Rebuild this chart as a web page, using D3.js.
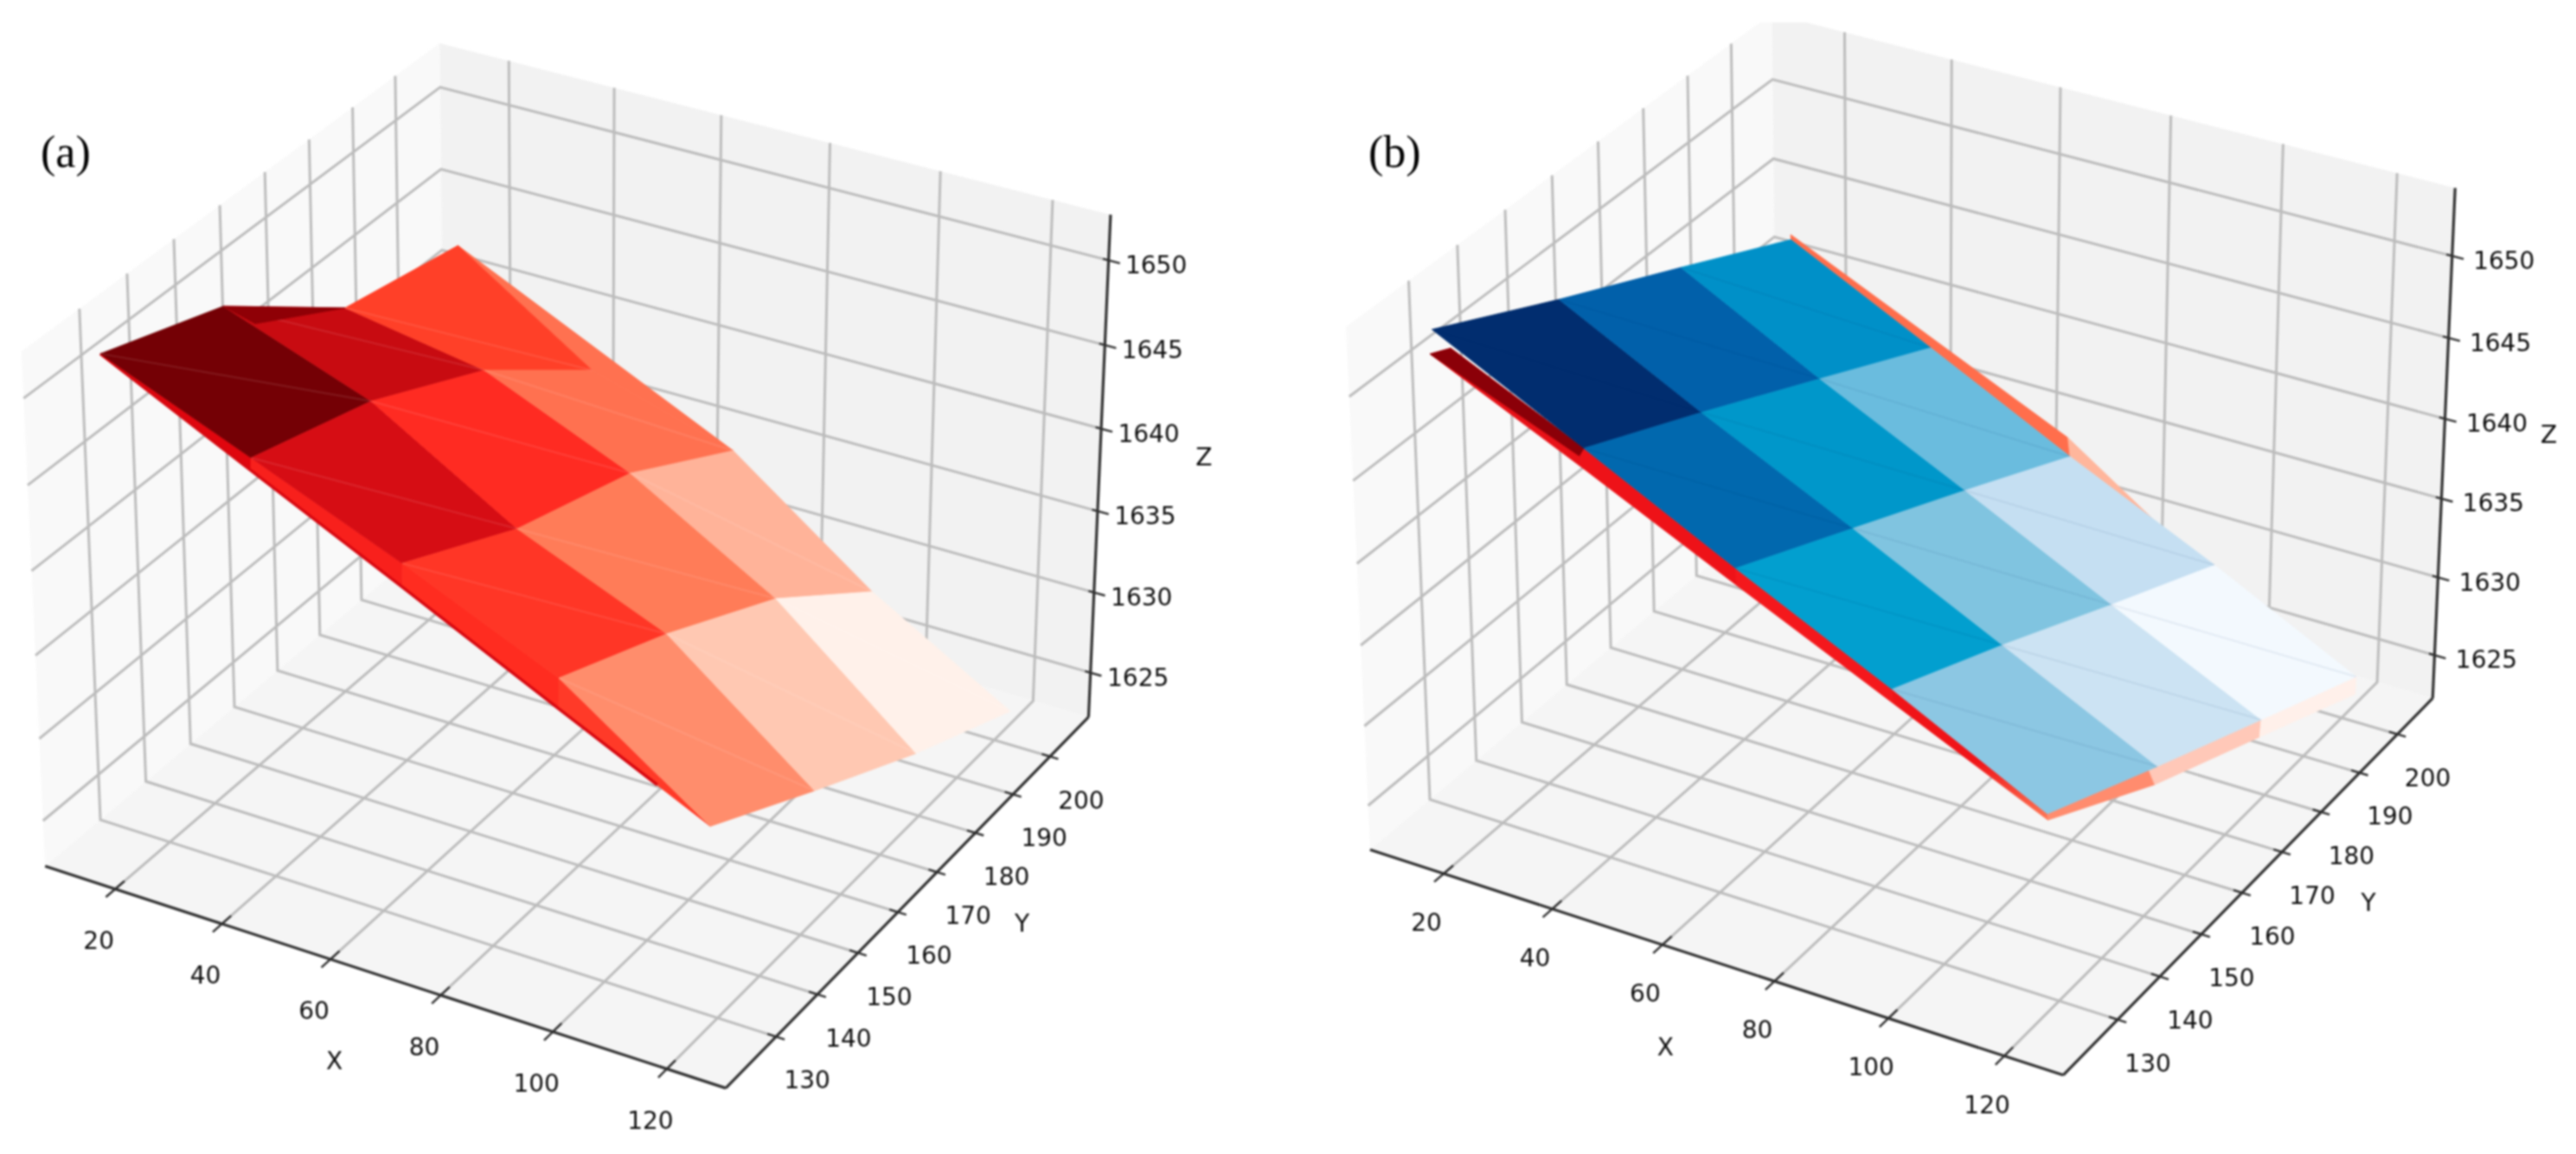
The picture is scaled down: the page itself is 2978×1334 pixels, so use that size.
<!DOCTYPE html>
<html>
  <head>
    <meta charset="utf-8">
    <title>Surface comparison</title>
    <style>
      body { margin: 0; background: #fff; overflow: hidden; }
      svg { display: block; filter: blur(0.9px); }
      .tick-label, .axis-label { font-family: "DejaVu Sans"; font-size: 28px; fill: #0c0c0c; text-anchor: middle; }
      .panel-label { font-family: "Liberation Serif"; font-size: 52px; fill: #000; }
      .grid { fill: none; stroke: #bcbcbc; stroke-width: 3px; }
      .axis-line { stroke: #303030; stroke-width: 3.2px; }
      .tick { stroke: #303030; stroke-width: 2.4px; }
    </style>
  </head>
  <body>
    <svg id="container" width="2978" height="1334">
      <defs>
        <linearGradient id="strip-tip" x1="0" y1="0" x2="0" y2="1">
          <stop offset="0.55" stop-color="#f01418"></stop>
          <stop offset="1" stop-color="#ff7a58"></stop>
        </linearGradient>
        <clipPath id="top-cut"><rect x="1489" y="26" width="1489" height="1308"></rect></clipPath>
      </defs>
    </svg>
    <script src="https://cdn.jsdelivr.net/npm/d3@7/dist/d3.min.js"></script>
    <script>
      // tick labels
      const xTicks = [20, 40, 60, 80, 100, 120];
      const yTicks = [130, 140, 150, 160, 170, 180, 190, 200];
      const zTicks = [1625, 1630, 1635, 1640, 1645, 1650];

      // red surface, rows along X, columns along Y
      const redX = [
        [15.5, 14.0, 20.9, 16.3],
        [40.5, 38.1, 39.5, 46.0],
        [65.6, 67.2, 65.4, 68.3],
        [92.3, 92.7, 94.6, 100.1],
        [123.0, 125.2, 127.1, 127.8]
      ];
      const redY = [
        [124.3, 151.8, 170.5, 202.6],
        [126.5, 155.4, 179.7, 197.4],
        [128.5, 152.2, 181.4, 203.3],
        [129.5, 154.0, 178.2, 195.3],
        [123.6, 145.4, 168.2, 192.1]
      ];
      const redZ = [
        [1652.04, 1649.03, 1645.75, 1642.69],
        [1647.91, 1644.87, 1641.78, 1638.70],
        [1643.78, 1640.73, 1637.56, 1634.53],
        [1639.53, 1636.57, 1633.42, 1630.56],
        [1635.46, 1632.54, 1629.57, 1626.63]
      ];
      // loose points where the red sheet folds under itself
      const redFoldPoints = [
        [18.7, 153.2, 1648.14],
        [42.5, 124.1, 1647.88],
        [69.3, 124.0, 1643.75],
        [96.7, 123.8, 1639.51],
        [113.8, 123.7, 1636.88]
      ];

      // blue surface
      const blueX = [
        [11.9, 14.0, 15.6, 17.3],
        [39.6, 40.9, 42.7, 44.6],
        [67.1, 68.5, 69.9, 71.6],
        [94.7, 95.7, 97.3, 98.6],
        [122.3, 123.6, 124.6, 125.5]
      ];
      const blueY = [
        [128.1, 151.9, 176.6, 199.8],
        [127.1, 150.5, 174.8, 198.6],
        [125.9, 149.8, 173.9, 197.2],
        [125.1, 148.7, 172.6, 196.7],
        [123.6, 147.5, 171.7, 195.1]
      ];
      const blueZ = [
        [1652.16, 1649.02, 1645.86, 1642.86],
        [1647.98, 1645.01, 1641.86, 1638.77],
        [1643.85, 1640.82, 1637.75, 1634.75],
        [1639.68, 1636.73, 1633.67, 1630.62],
        [1635.57, 1632.55, 1629.54, 1626.63]
      ];
      // edge of the red sheet that shows from under the blue one
      const underPoints = [
        [15.8, 123.3, 1652.12],
        [40.5, 125.1, 1647.49],
        [123.2, 122.5, 1635.57],
        [16.4, 200.9, 1642.87],
        [68.4, 201.0, 1634.78],
        [91.1, 196.0, 1631.86],
        [123.5, 145.6, 1632.79],
        [125.9, 143.7, 1632.64],
        [126.9, 168.0, 1629.62],
        [127.5, 191.9, 1626.50],
        [68.5, 124.5, 1643.28],
        [96.5, 123.0, 1639.55],
        [17.5, 125.6, 1652.12],
        [40.5, 125.1, 1648.07]
      ];

      const redCells = [
        ['#740005', '#c80b11', '#ff4028'],
        ['#d60d14', '#ff2b22', '#ff7150'],
        ['#ff3626', '#ff7c58', '#ffb399'],
        ['#ff8d6c', '#ffc8b2', '#fff1ea']
      ];
      const blueCells = [
        ['#012d6f', '#0160aa', '#0090c8'],
        ['#0168ae', '#0097ca', '#6abcde'],
        ['#029fcf', '#80c4e0', '#c5dff2'],
        ['#8cc7e3', '#cce3f3', '#f3f9fe']
      ];

      const svg = d3.select('#container');

      // box half sizes and camera of a default 3D axes (elev 30, azim -60)
      const boxXY = 0.5714, boxZ = 0.4286, dist = 10;
      const U = [0.8660254, 0.5, 0],
        V = [-0.25, 0.4330127, 0.8660254],
        N = [0.4330127, -0.75, 0.5];
      const dot = (a, b) => a[0] * b[0] + a[1] * b[1] + a[2] * b[2];

      function makeProjection(f) {
        const wx = d3.scaleLinear().domain(f.x).range([-boxXY, boxXY]),
          wy = d3.scaleLinear().domain(f.y).range([-boxXY, boxXY]),
          wz = d3.scaleLinear().domain(f.z).range([-boxZ, boxZ]),
          sx = d3.scaleLinear().domain([0, 1]).range([f.tx, f.tx + f.sx]),
          sy = d3.scaleLinear().domain([0, 1]).range([f.ty, f.ty - f.sy]);
        return function (p) {
          const w = [wx(p[0]), wy(p[1]), wz(p[2])], d = dist - dot(w, N);
          return [sx(dot(w, U) / d), sy(dot(w, V) / d)];
        };
      }

      function pt(xs, ys, zs) {
        return (i, j) => [xs[i][j], ys[i][j], zs[i][j]];
      }

      function drawBox(g, f, project) {
        const x0 = f.x[0], x1 = f.x[1], y0 = f.y[0], y1 = f.y[1], z0 = f.z[0], z1 = f.z[1];
        const path = d3.line().x(p => project(p)[0]).y(p => project(p)[1]);

        /* panes */
        g.append('path').attr('fill', '#f9f9f9').attr('d', path([[x0, y0, z0], [x0, y1, z0], [x0, y1, z1], [x0, y0, z1]]) + 'Z');
        g.append('path').attr('fill', '#f2f2f2').attr('d', path([[x0, y1, z0], [x1, y1, z0], [x1, y1, z1], [x0, y1, z1]]) + 'Z');
        g.append('path').attr('fill', '#f5f5f5').attr('d', path([[x0, y0, z0], [x1, y0, z0], [x1, y1, z0], [x0, y1, z0]]) + 'Z');

        /* grid */
        xTicks.forEach(t => g.append('path').attr('class', 'grid').attr('d', path([[t, y0, z0], [t, y1, z0], [t, y1, z1]])));
        yTicks.forEach(t => g.append('path').attr('class', 'grid').attr('d', path([[x1, t, z0], [x0, t, z0], [x0, t, z1]])));
        zTicks.forEach(t => g.append('path').attr('class', 'grid').attr('d', path([[x0, y0, t], [x0, y1, t], [x1, y1, t]])));

        /* axis lines */
        g.append('path').attr('class', 'axis-line').attr('d', path([[x0, y0, z0], [x1, y0, z0]]));
        g.append('path').attr('class', 'axis-line').attr('d', path([[x1, y0, z0], [x1, y1, z0]]));
        g.append('path').attr('class', 'axis-line').attr('d', path([[x1, y1, z0], [x1, y1, z1]]));

        /* ticks and their labels */
        function ticks(values, from, to, at, off) {
          values.forEach(t => {
            g.append('path').attr('class', 'tick').attr('d', path([from(t), to(t)]));
            const p = project(at(t));
            g.append('text').attr('class', 'tick-label').attr('x', p[0] + off[0]).attr('y', p[1] + off[1]).attr('dy', '.36em').text(t);
          });
        }
        ticks(xTicks, t => [t, y0 - 2, z0], t => [t, y0 + 2, z0], t => [t, y0, z0], f.xOff);
        ticks(yTicks, t => [x1 - 1.5, t, z0], t => [x1 + 1.5, t, z0], t => [x1, t, z0], f.yOff);
        ticks(zTicks, t => [x1 - 1, y1, t], t => [x1 + 2, y1, t], t => [x1, y1, t], f.zOff);

        /* axis names */
        const label = (s, at, off) => {
          const p = project(at);
          g.append('text').attr('class', 'axis-label').attr('x', p[0] + off[0]).attr('y', p[1] + off[1]).attr('dy', '.36em').text(s);
        };
        label('X', [70, y0, z0], f.xName);
        label('Y', [x1, 165, z0], f.yName);
        label('Z', [x1, y1, 1637.5], f.zName);
      }

      function drawFaces(g, project, faces) {
        const path = d3.line().x(p => project(p)[0]).y(p => project(p)[1]);
        g.selectAll(null).data(faces).enter().append('path')
          .attr('d', d => path(d.pts) + 'Z')
          .attr('fill', d => d.color)
          .attr('stroke', d => d.color)
          .attr('stroke-width', 0.8);
      }

      function drawMesh(g, project, at, cells, seam, seamOpacity) {
        const path = d3.line().x(p => project(p)[0]).y(p => project(p)[1]);
        const faces = [];
        cells.forEach((row, i) => row.forEach((color, j) => {
          faces.push({ pts: [at(i, j), at(i, j + 1), at(i + 1, j + 1), at(i + 1, j)], color: color });
        }));
        drawFaces(g, project, faces);
        // faint triangle seams
        cells.forEach((row, i) => row.forEach((color, j) => {
          g.append('path').attr('d', path([at(i, j), at(i + 1, j + 1)]))
            .attr('stroke', seam).attr('stroke-opacity', seamOpacity).attr('stroke-width', 2);
        }));
      }

      /*
        Panel (a)
      */
      const frameA = {
        x: [6.7, 130.2], y: [118.1, 210.6], z: [1622.2, 1652.66],
        sx: 7890, sy: 7915, tx: 666, ty: 626,
        xOff: [-19, 59], yOff: [36, 50], zOff: [55, 5],
        xName: [-59, 96], yName: [121, 36], zName: [121, -15]
      };
      const gA = svg.append('g');
      const projA = makeProjection(frameA);
      drawBox(gA, frameA, projA);
      const r = pt(redX, redY, redZ), rf = redFoldPoints;
      drawFaces(gA, projA, [
        { pts: [r(0, 0), r(1, 0), rf[1]], color: '#e0060e' },
        { pts: [rf[1], r(1, 0), r(2, 0), rf[2]], color: '#f8201c' },
        { pts: [rf[2], r(2, 0), r(3, 0), rf[3]], color: '#ff2c20' },
        { pts: [rf[3], r(3, 0), r(4, 0)], color: '#ff3a28' },
        { pts: [r(0, 3), r(2, 3), r(1, 3)], color: '#ff7150' }
      ]);
      const foldEdge = d3.line().x(p => projA(p)[0]).y(p => projA(p)[1]);
      gA.append('path').attr('d', foldEdge([r(0, 0), rf[1], rf[2], rf[3], rf[4]]))
        .attr('fill', 'none').attr('stroke', '#d80810').attr('stroke-width', 3.5);
      drawMesh(gA, projA, r, redCells, '#ffffff', 0.1);
      drawFaces(gA, projA, [{ pts: [r(0, 1), r(0, 2), rf[0]], color: '#8f0006' }]);
      gA.append('text').attr('class', 'panel-label').attr('x', 47).attr('y', 193).text('(a)');

      /*
        Panel (b)
      */
      const frameB = {
        x: [6.24, 130.05], y: [117.4, 209.5], z: [1622.2, 1654.1],
        sx: 8035, sy: 8040, tx: 2209, ty: 601,
        xOff: [-20, 56], yOff: [35, 50], zOff: [60, 5],
        xName: [-61, 97], yName: [123, 35], zName: [122, -29]
      };
      const gB = svg.append('g').attr('clip-path', 'url(#top-cut)');
      const projB = makeProjection(frameB);
      drawBox(gB, frameB, projB);
      const b = pt(blueX, blueY, blueZ), u = i => underPoints[i];
      drawFaces(gB, projB, [
        { pts: [u(0), u(12), b(1, 0), u(1)], color: '#e81218' },
        { pts: [u(1), b(1, 0), b(2, 0), u(10)], color: '#ee1218' },
        { pts: [u(10), b(2, 0), b(3, 0), u(11)], color: '#f4181c' },
        { pts: [u(11), b(3, 0), b(4, 0), u(2)], color: 'url(#strip-tip)' },
        { pts: [u(0), u(12), b(1, 0), u(13)], color: '#8b0008' },
        { pts: [u(3), u(4), b(2, 3), b(1, 3), b(0, 3)], color: '#ff6e4c' },
        { pts: [u(4), b(2, 3), u(5)], color: '#ffb69c' },
        { pts: [b(4, 0), u(6), u(7), u(2)], color: '#ff8c6e' },
        { pts: [u(6), b(4, 2), u(8), u(7)], color: '#ffc8b8' },
        { pts: [b(4, 2), b(4, 3), u(9), u(8)], color: '#fff0ea' }
      ]);
      drawMesh(gB, projB, b, blueCells, '#003060', 0.07);
      gB.append('text').attr('class', 'panel-label').attr('x', 1582).attr('y', 193).text('(b)');
    </script>
  </body>
</html>
